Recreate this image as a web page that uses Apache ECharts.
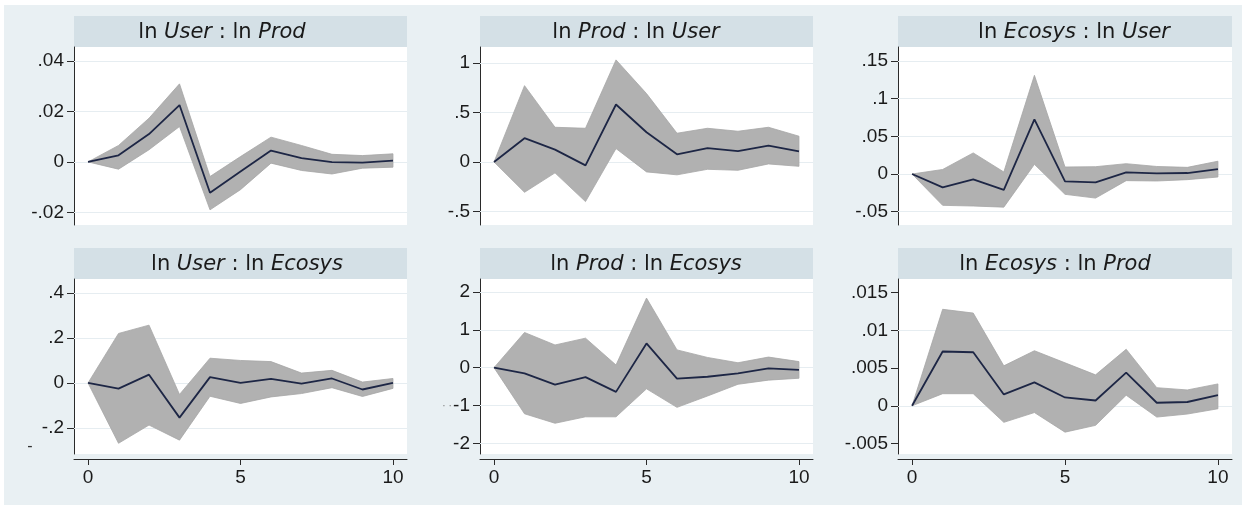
<!DOCTYPE html>
<html>
<head>
<meta charset="utf-8">
<script src="https://cdn.jsdelivr.net/npm/echarts@6/dist/echarts.min.js"></script>
<style>
html,body{margin:0;padding:0;background:#ffffff;}
#c{width:1242px;height:505px;}
</style>
</head>
<body>
<div id="c"></div>
<script>
// ---- data ----
const steps = [0,1,2,3,4,5,6,7,8,9,10];
const xTicks = [0,5,10];

const titles = [
  ['User','Prod'], ['Prod','User'], ['Ecosys','User'],
  ['User','Ecosys'], ['Prod','Ecosys'], ['Ecosys','Prod']
];

// ln User : ln Prod
const p1Irf   = [0,0.0026,0.011,0.0225,-0.0122,-0.0038,0.0045,0.0015,-0.0001,-0.0003,0.0005];
const p1Upper = [0,0.0065,0.0173,0.0309,-0.0058,0.0021,0.0098,0.0065,0.003,0.0025,0.0032];
const p1Lower = [0,-0.0029,0.0048,0.014,-0.019,-0.011,-0.0005,-0.0034,-0.0048,-0.0025,-0.0021];
const p1Ticks = [-0.02,0,0.02,0.04];

// ln Prod : ln User
const p2Irf   = [0,0.24,0.125,-0.034,0.58,0.30,0.077,0.14,0.11,0.165,0.108];
const p2Upper = [0,0.77,0.35,0.34,1.03,0.69,0.29,0.34,0.31,0.35,0.26];
const p2Lower = [0,-0.306,-0.11,-0.40,0.135,-0.10,-0.13,-0.074,-0.084,-0.02,-0.044];
const p2Ticks = [-0.5,0,0.5,1];

// ln Ecosys : ln User
const p3Irf   = [0,-0.0177,-0.007,-0.021,0.0726,-0.0097,-0.011,0.0022,0.0009,0.0013,0.0066];
const p3Upper = [0,0.006,0.028,0.0027,0.131,0.0093,0.0097,0.0137,0.010,0.0088,0.017];
const p3Lower = [0,-0.0416,-0.0425,-0.044,0.0128,-0.027,-0.032,-0.0088,-0.0093,-0.0075,-0.004];
const p3Ticks = [-0.05,0,0.05,0.1,0.15];

// ln User : ln Ecosys
const p4Irf   = [0,-0.025,0.037,-0.154,0.026,0.0,0.018,-0.003,0.02,-0.029,0];
const p4Upper = [0,0.22,0.257,-0.051,0.11,0.1,0.095,0.044,0.056,0.004,0.02];
const p4Lower = [0,-0.268,-0.187,-0.254,-0.059,-0.091,-0.062,-0.047,-0.021,-0.06,-0.024];
const p4Ticks = [-0.2,0,0.2,0.4];

// ln Prod : ln Ecosys
const p5Irf   = [0,-0.15,-0.45,-0.25,-0.64,0.64,-0.29,-0.24,-0.15,-0.02,-0.06];
const p5Upper = [0,0.93,0.6,0.78,0.07,1.84,0.47,0.27,0.13,0.28,0.16];
const p5Lower = [0,-1.22,-1.47,-1.3,-1.3,-0.56,-1.05,-0.75,-0.44,-0.33,-0.28];
const p5Ticks = [-2,-1,0,1,2];

// ln Ecosys : ln Prod
const p6Irf   = [0,0.0072,0.0071,0.0015,0.0031,0.0011,0.0007,0.0044,0.0004,0.0005,0.0014];
const p6Upper = [0,0.0128,0.0123,0.0053,0.0073,0.0057,0.0041,0.0075,0.0024,0.0021,0.0029];
const p6Lower = [0,0.0016,0.0016,-0.0022,-0.0009,-0.0035,-0.0026,0.0014,-0.0015,-0.0011,-0.0004];
const p6Ticks = [-0.005,0,0.005,0.01,0.015];

// ---- layout ----
const panels = [
  {irf:p1Irf, up:p1Upper, lo:p1Lower, ticks:p1Ticks, min:-0.025, max:0.0455},
  {irf:p2Irf, up:p2Upper, lo:p2Lower, ticks:p2Ticks, min:-0.636, max:1.16},
  {irf:p3Irf, up:p3Upper, lo:p3Lower, ticks:p3Ticks, min:-0.0677, max:0.1686},
  {irf:p4Irf, up:p4Upper, lo:p4Lower, ticks:p4Ticks, min:-0.3156, max:0.462},
  {irf:p5Irf, up:p5Upper, lo:p5Lower, ticks:p5Ticks, min:-2.283, max:2.344},
  {irf:p6Irf, up:p6Upper, lo:p6Lower, ticks:p6Ticks, min:-0.0064, max:0.01682}
];
const colLeft = [74, 480, 898];
const colWidth = [333, 333, 334];
const rowTop = [47, 279];
const rowHeight = [178, 175];
const stripTop = [16, 248];
const stripH = 31;
const titleCenterX = [222, 636, 1074, 247, 646, 1055];

const FONT = '"Liberation Sans", Arial, sans-serif';
const TFONT = '"DejaVu Sans", Verdana, sans-serif';
const fmt = v => {
  if (v === 0) return '0';
  let s = String(+v.toPrecision(6));
  return s.replace(/^(-?)0\./, '$1.');
};

function bandRender(params, api) {
  if (params.dataIndexInside !== 0) return null;
  const n = params.dataInsideLength;
  const top = [], bot = [];
  for (let i = 0; i < n; i++) {
    const x = api.value(0, i);
    top.push(api.coord([x, api.value(2, i)]));
    bot.push(api.coord([x, api.value(1, i)]));
  }
  const pts = top.concat(bot.reverse());
  return {type:'polygon', shape:{points:pts},
    style:{fill:'#b1b1b1', stroke:'#a6a6a6', lineWidth:0.8}};
}

const grids = [], xAxes = [], yAxes = [], series = [], graphics = [];
graphics.push({type:'rect', shape:{x:4,y:5,width:1238,height:500}, style:{fill:'#e9f0f3'}, z:-10, silent:true});

panels.forEach((p, k) => {
  const r = Math.floor(k/3), c = k%3;
  grids.push({left: colLeft[c], top: rowTop[r], width: colWidth[c], height: rowHeight[r],
    show:true, backgroundColor:'#ffffff', borderWidth:0});
  xAxes.push({type:'value', gridIndex:k, min:-0.46, max:10.46, show: r===1, offset:5,
    axisLine:{show:true, onZero:false, lineStyle:{color:'#2a2a2a', width:1}},
    axisTick:{show:true, length:6, customValues:xTicks, lineStyle:{color:'#2a2a2a'}},
    axisLabel:{show:true, customValues:xTicks, margin:9, fontSize:19, color:'#1a1a1a', fontFamily:FONT},
    splitLine:{show:false}});
  yAxes.push({type:'value', gridIndex:k, min:p.min, max:p.max,
    axisLine:{show:true, onZero:false, lineStyle:{color:'#2a2a2a', width:1}},
    axisTick:{show:true, length:7, customValues:p.ticks, lineStyle:{color:'#2a2a2a'}},
    axisLabel:{show:true, customValues:p.ticks, margin:10, fontSize:19, color:'#1a1a1a', fontFamily:FONT, formatter:fmt},
    splitLine:{show:false}});
  series.push({type:'custom', xAxisIndex:k, yAxisIndex:k, renderItem: bandRender,
    data: steps.map((s,i)=>[s, p.lo[i], p.up[i]]), encode:{x:0, y:[1,2]}, silent:true, z:2,
    markLine:{silent:true, symbol:'none', label:{show:false}, animation:false, z:1,
      lineStyle:{color:'#e6edf1', width:1.2, type:'solid'},
      data: p.ticks.map(t=>({yAxis:t}))}});
  series.push({type:'line', xAxisIndex:k, yAxisIndex:k,
    data: steps.map((s,i)=>[s, p.irf[i]]), symbol:'none', silent:true, z:4,
    lineStyle:{width:1.8, color:'#1d2645'}});

  graphics.push({type:'rect', shape:{x:colLeft[c], y:stripTop[r], width:colWidth[c], height:stripH},
    style:{fill:'#d4e0e6'}, silent:true, z:-5});
  const t = titles[k];
  graphics.push({type:'text', x: titleCenterX[k], y: stripTop[r] + stripH/2 + 1, silent:true, z:5,
    style:{text:'{n|ln }{i|' + t[0] + '}{n| : ln }{i|' + t[1] + '}', align:'center', verticalAlign:'middle',
      rich:{n:{fontSize:21, fontFamily:TFONT, fill:'#1a1a1a'}, i:{fontSize:21, fontFamily:TFONT, fontStyle:'italic', fill:'#1a1a1a'}}}});
});

// stray marks present in the source image
graphics.push({type:'text', x:30, y:447, silent:true, style:{text:'-', fontSize:16, fontFamily:FONT, fill:'#333', align:'center', verticalAlign:'middle'}});
graphics.push({type:'text', x:447, y:406, silent:true, style:{text:'· ·', fontSize:10, fontFamily:FONT, fill:'#777', align:'center', verticalAlign:'middle'}});

const chart = echarts.init(document.getElementById('c'), null, {renderer:'canvas'});
chart.setOption({
  backgroundColor:'#ffffff',
  animation:false,
  grid: grids, xAxis: xAxes, yAxis: yAxes, series: series, graphic: graphics
});
</script>
</body>
</html>
